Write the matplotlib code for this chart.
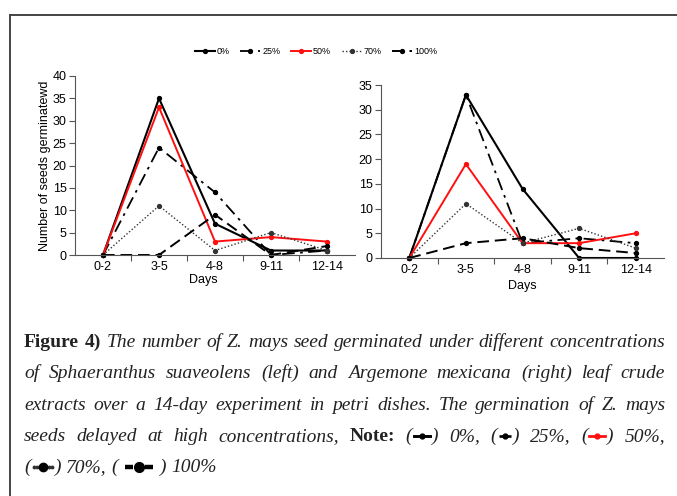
import matplotlib
matplotlib.use("Agg")
import matplotlib.pyplot as plt
from matplotlib.lines import Line2D

W, H = 677, 496

days = ["0-2", "3-5", "4-8", "9-11", "12-14"]
conc = ["0%", "25%", "50%", "70%", "100%"]

# Sphaeranthus suaveolens (left)
left_0 = [0, 35, 7, 1, 1]
left_25 = [0, 24, 14, 0, 1]
left_50 = [0, 33, 3, 4, 3]
left_70 = [0, 11, 1, 5, 1]
left_100 = [0, 0, 9, 0, 2]

# Argemone mexicana (right)
right_0 = [0, 33, 14, 0, 0]
right_25 = [0, 33, 3, 4, 3]
right_50 = [0, 19, 3, 3, 5]
right_70 = [0, 11, 3, 6, 2]
right_100 = [0, 3, 4, 2, 1]

STYLES = {
    "0%": dict(color="black", ls="-", lw=1.5),
    "25%": dict(color="black", ls=(0, (7, 3, 1.5, 3)), lw=1.3),
    "50%": dict(color="#ff1010", ls="-", lw=1.4),
    "70%": dict(color="#333333", ls=(0, (1, 1.5)), lw=1.0),
    "100%": dict(color="black", ls=(0, (6, 3)), lw=1.4),
}

plt.rcParams["font.family"] = ["Liberation Sans", "DejaVu Sans"]

fig = plt.figure(figsize=(W / 100, H / 100), dpi=100)


def px(x, y):
    return x / W, 1 - y / H


def style_axes(ax, ymax):
    x = list(range(len(days)))
    ax.set_xlim(-0.5, len(days) - 0.5)
    ax.set_ylim(0, ymax)
    ax.set_yticks(range(0, ymax + 1, 5))
    ax.set_xticks([i + 0.5 for i in x[:-1]], minor=False)
    ax.set_xticklabels([])
    ax.set_xticks(x, minor=True)
    ax.set_xticklabels(days, minor=True)
    ax.tick_params(axis="x", which="minor", length=0, labelsize=9, pad=4)
    ax.tick_params(axis="x", which="major", length=4, width=0.8, color="#555555")
    ax.tick_params(axis="y", length=4, width=0.8, color="#555555", labelsize=9, pad=2)
    for s in ("top", "right"):
        ax.spines[s].set_visible(False)
    for s in ("left", "bottom"):
        ax.spines[s].set_color("#555555")
        ax.spines[s].set_linewidth(0.8)


def draw(ax, series):
    x = list(range(len(days)))
    for name, vals in zip(conc, series):
        ax.plot(x, vals, marker="o", ms=2.8, label=name, clip_on=False, **STYLES[name])


axL = fig.add_axes([75 / W, 1 - 255 / H, 280 / W, 179 / H])
draw(axL, [left_0, left_25, left_50, left_70, left_100])
style_axes(axL, 40)
axL.set_ylabel("Number of seeds germinatewd", fontsize=9, labelpad=1)
fig.text(*px(203, 280), "Days", fontsize=9, ha="center", va="center")

axR = fig.add_axes([381 / W, 1 - 258 / H, 283 / W, 173 / H])
draw(axR, [right_0, right_25, right_50, right_70, right_100])
style_axes(axR, 35)
fig.text(*px(522, 286), "Days", fontsize=9, ha="center", va="center")

handles, labels = axL.get_legend_handles_labels()
fig.legend(handles, labels, loc="center", bbox_to_anchor=px(316, 52), ncol=5, frameon=False,
           fontsize=6.5, handlelength=2.2, handletextpad=0.2, columnspacing=1.2,
           borderaxespad=0)

# page frame
fig.add_artist(Line2D([10 / W, 1], [1 - 15 / H, 1 - 15 / H], color="#444444", lw=1.4))
fig.add_artist(Line2D([10 / W, 10 / W], [0, 1 - 15 / H], color="#444444", lw=1.4))

# caption, justified word by word
renderer = fig.canvas.get_renderer()
CAP = dict(family=["Liberation Serif", "DejaVu Serif"], fontsize=14)
X0, X1 = 24, 665
baselines = [347, 378, 410, 441, 472]

sym_w = {"0%": 20, "25%": 16, "50%": 20, "70%": 24, "100%": 42}


def sym(name):
    return ("sym", name)


def word(s, bold=False):
    return [("b" if bold else "i", s)]


lines = [
    [word("Figure", True), word("4)", True)] + [word(w) for w in "The number of Z. mays seed germinated under different concentrations".split()],
    [word(w) for w in "of Sphaeranthus suaveolens (left) and Argemone mexicana (right) leaf crude".split()],
    [word(w) for w in "extracts over a 14-day experiment in petri dishes. The germination of Z. mays".split()],
    [word(w) for w in "seeds delayed at high concentrations,".split()] + [word("Note:", True),
     [("i", "("), sym("0%"), ("i", ")")], word("0%,"),
     [("i", "("), sym("25%"), ("i", ")")], word("25%,"),
     [("i", "("), sym("50%"), ("i", ")")], word("50%,")],
    [[("i", "("), sym("70%"), ("i", ")")], word("70%,"),
     [("i", "("), sym("100%"), ("i", ")")], word("100%")],
]


def part_width(kind, s):
    if kind == "sym":
        return sym_w[s]
    t = fig.text(0, 0, s, style="normal" if kind == "b" else "italic",
                 weight="bold" if kind == "b" else "normal", **CAP)
    w = t.get_window_extent(renderer).width
    t.remove()
    return w


space_w = part_width("i", "a a") - part_width("i", "aa")


def draw_sym(name, x0, pw, yb):
    st = STYLES[name]
    yy = 1 - (yb - 5) / H
    mid = x0 + pw / 2
    if name == "100%":
        # thick dashes either side of a big dot, inside spaced brackets
        for a, b in ((x0 + 7, x0 + 15), (x0 + pw - 15, x0 + pw - 7)):
            fig.add_artist(Line2D([a / W, b / W], [yy, yy], color="black", lw=3.2, solid_capstyle="butt"))
        fig.add_artist(Line2D([mid / W], [yy], marker="o", ms=7, color="black", ls="none"))
        return
    if name == "70%":
        dots = [x0 + 3, x0 + 6, mid + 6, mid + 9]
        fig.add_artist(Line2D([d / W for d in dots], [yy] * 4, marker="o", ms=1.8,
                              color="#333333", ls="none"))
        fig.add_artist(Line2D([mid / W], [yy], marker="o", ms=6, color="black", ls="none"))
        return
    fig.add_artist(Line2D([(x0 + 2) / W, (x0 + pw - 2) / W], [yy, yy],
                          color=st["color"], ls=st["ls"], lw=st["lw"] + 0.6))
    fig.add_artist(Line2D([mid / W], [yy], marker="o", ms=3.5, color=st["color"], ls="none"))


for li, (toks, yb) in enumerate(zip(lines, baselines)):
    widths = [sum(part_width(k, s) for k, s in tok) for tok in toks]
    if li < len(lines) - 1:
        gap = (X1 - X0 - sum(widths)) / (len(toks) - 1)
    else:
        gap = space_w
    x = X0
    for tok, tw in zip(toks, widths):
        cx = x
        for k, s in tok:
            pw = part_width(k, s)
            if k == "sym":
                draw_sym(s, cx, pw, yb)
            else:
                fig.text(cx / W, 1 - yb / H, s, va="baseline", ha="left",
                         style="normal" if k == "b" else "italic",
                         weight="bold" if k == "b" else "normal", color="#222222", **CAP)
            cx += pw
        x += tw + gap

fig.savefig("out.png", dpi=100)
